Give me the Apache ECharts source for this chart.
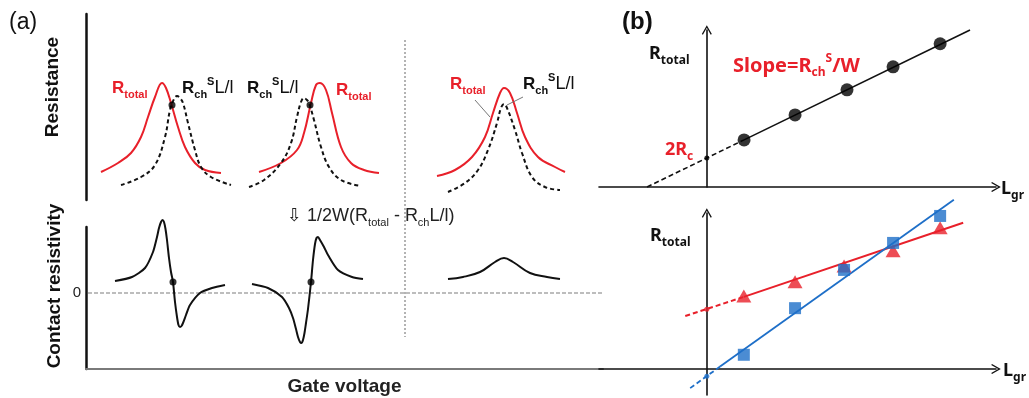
<!DOCTYPE html>
<html>
<head>
<meta charset="utf-8">
<title>Contact resistance</title>
<script src="https://cdn.jsdelivr.net/npm/echarts@6/dist/echarts.min.js"></script>
<style>
  html, body { margin: 0; padding: 0; background: #fff; }
  #chart { width: 1029px; height: 398px; }
</style>
</head>
<body>
<div id="chart"></div>
<script>
// (a) top: resistance vs gate voltage (arbitrary units)
var redA1 = [[15,28],[32,37],[45,47],[55,63],[62,83],[69,103],[76,117],[80,112],[85,97],[92,73],[99,53],[109,37],[119,30],[135,27]];
var blackA1 = [[35,15],[55,23],[69,35],[79,63],[84,90],[88,101],[91,104],[94,102],[97,97],[102,77],[109,50],[115,33],[125,23],[145,15]];
var redA2 = [[173,28],[195,37],[211,50],[218,67],[225,97],[230,115],[234,117],[240,110],[246,87],[255,53],[265,37],[278,30],[293,27]];
var blackA2 = [[163,13],[178,20],[195,37],[205,57],[211,83],[215,98],[218,102],[221,100],[223,97],[228,80],[235,53],[243,33],[255,20],[275,14]];
var redA3 = [[351,24],[369,30],[386,43],[399,63],[407,87],[414,107],[418,112],[424,107],[431,87],[439,63],[452,43],[469,33],[479,28]];
var blackA3 = [[362,8],[379,17],[392,30],[402,50],[411,77],[415,92],[418,96],[421,92],[429,70],[436,47],[446,23],[459,13],[474,10]];
var crossTop = [[86,95],[224,95]];
var leaderTotal = [[389,100],[404,83]];
var leaderCh = [[437,103],[421,95]];
var divider = [[319,160],[319,-137]];

// (a) bottom: contact resistivity
var rhoA1 = [[29,12],[46,16],[59,25],[67,41],[71,56],[73,65],[75,71],[76.5,73],[78,71],[79.5,64],[81,53],[83,35],[85,21],[87,11],[89,-9],[91,-24],[92.5,-32],[94,-34],[95.5,-33],[97,-30],[100,-22],[104,-12],[114,0],[126,5],[139,8]];
var rhoA2 = [[166,9],[182,5],[196,-4],[203,-15],[207,-25],[210,-36],[212,-44],[214,-49],[215.5,-50],[217,-47],[218.5,-40],[220,-30],[222,-16],[225,11],[227,33],[229,49],[230.5,55],[232,56],[234,53],[238,46],[242,38],[252,23],[266,16],[277,14]];
var rhoA3 = [[362,14],[377,16],[394,21],[409,31],[418,35],[427,31],[444,20],[461,16],[474,14]];
var crossBottom = [[87,11],[225,11]];
var zeroLine = [[2,0],[517,0]];

// (b) top: R_total vs L_gr
var lgrTop = [0.76, 1.8, 2.86, 3.8, 4.76];
var rTop = [0.96, 1.47, 1.98, 2.45, 2.92];
var fitTopDashed = [[-1.22,0],[0.76,0.96]];
var fitTopSolid = [[0.76,0.96],[5.37,3.2]];
var interceptTop = [[0,0.59]];

// (b) bottom: two devices
var lgrBottom = [0.755, 1.8, 2.8, 3.8, 4.76];
var rRed = [1.49, 1.78, 2.1, 2.41, 2.88];
var rBlue = [0.29, 1.24, 2.02, 2.57, 3.12];
var redDashed = [[-0.44,1.08],[0.755,1.47]];
var redSolid = [[0.755,1.47],[5.23,2.98]];
var redIntercept = [[0,1.22]];
var blueDashed = [[-0.34,-0.39],[0.27,0.05]];
var blueSolid = [[0.27,0.05],[5.04,3.45]];
var blueIntercept = [[0,-0.15]];

var RED = '#e8202a';
var BLUE = '#1e6fc8';
var FA = '"Liberation Sans", Arial, "DejaVu Sans", sans-serif';
var FB = '"Noto Sans", "Open Sans", sans-serif';
var arrow = 'path://M5,0 L10,8.8 L8.9,9.6 L5,2.6 L1.1,9.6 L0,8.8 Z';

function pairs(xs, ys) {
  return xs.map(function (x, i) { return [x, ys[i]]; });
}

function curve(data, idx, color, dashed, smooth) {
  return {
    type: 'line', xAxisIndex: idx, yAxisIndex: idx, data: data,
    smooth: smooth || 0.4, symbol: 'none', silent: true, clip: false,
    lineStyle: { color: color, width: 2, type: dashed ? [4, 3] : 'solid' }
  };
}

function straight(data, idx, color, width, type) {
  return {
    type: 'line', xAxisIndex: idx, yAxisIndex: idx, data: data,
    symbol: 'none', silent: true, clip: false,
    lineStyle: { color: color, width: width, type: type || 'solid' }
  };
}

function dots(data, idx, color, symbol, size) {
  return {
    type: 'scatter', xAxisIndex: idx, yAxisIndex: idx, data: data,
    symbol: symbol || 'circle', symbolSize: size, silent: true, z: 5,
    itemStyle: { color: color }
  };
}

function richA(color) {
  return {
    m: { fontFamily: FA, fontSize: 17, fontWeight: 'bold', fill: color, lineHeight: 24, verticalAlign: 'middle' },
    n: { fontFamily: FA, fontSize: 18, fill: color, lineHeight: 24, verticalAlign: 'middle' },
    sb: { fontFamily: FA, fontSize: 11, fontWeight: 'bold', fill: color, lineHeight: 11, verticalAlign: 'bottom' },
    sp: { fontFamily: FA, fontSize: 11, fontWeight: 'bold', fill: color, lineHeight: 13, verticalAlign: 'top' }
  };
}

function richB(color, size) {
  return {
    m: { fontFamily: FB, fontSize: size, fontWeight: 'bold', fill: color, lineHeight: 26, verticalAlign: 'middle' },
    sb: { fontFamily: FB, fontSize: 12, fontWeight: 'bold', fill: color, lineHeight: 12, verticalAlign: 'bottom' },
    sp: { fontFamily: FB, fontSize: 12, fontWeight: 'bold', fill: color, lineHeight: 14, verticalAlign: 'top' }
  };
}

function label(x, y, text, rich, extra) {
  var el = { type: 'text', x: x, y: y, silent: true,
    style: { text: text, rich: rich, align: 'left', verticalAlign: 'middle' } };
  return Object.assign(el, extra || {});
}

function plain(x, y, text, font, extra) {
  var el = { type: 'text', x: x, y: y, silent: true,
    style: Object.assign({ text: text, align: 'left', verticalAlign: 'middle', fill: '#111' }, font) };
  return Object.assign(el, extra || {});
}

var hidden = { axisTick: { show: false }, axisLabel: { show: false }, splitLine: { show: false } };

var bAxisLine = {
  show: true, onZero: true, symbol: ['none', arrow], symbolSize: [10, 10],
  lineStyle: { color: '#111', width: 1.6 }
};

var chart = echarts.init(document.getElementById('chart'));
chart.setOption({
  animation: false,
  backgroundColor: '#fff',
  grid: [
    { left: 86, top: 14, width: 517, height: 186 },
    { left: 86, top: 227, width: 517, height: 142 },
    { left: 599, top: 30, width: 397, height: 157 },
    { left: 599, top: 213, width: 397, height: 182 }
  ],
  xAxis: [
    Object.assign({ gridIndex: 0, type: 'value', min: 0, max: 517, axisLine: { show: false } }, hidden),
    Object.assign({
      gridIndex: 1, type: 'value', min: 0, max: 517,
      axisLine: { show: true, onZero: false, lineStyle: { color: '#7a7a7a', width: 2 } },
      name: 'Gate voltage', nameLocation: 'middle', nameGap: 8,
      nameTextStyle: { fontFamily: FA, fontSize: 19, fontWeight: 'bold', color: '#222', verticalAlign: 'top' }
    }, hidden),
    Object.assign({ gridIndex: 2, type: 'value', min: -2.2, max: 5.9, axisLine: bAxisLine }, hidden),
    Object.assign({ gridIndex: 3, type: 'value', min: -2.2, max: 5.9, axisLine: bAxisLine }, hidden)
  ],
  yAxis: [
    Object.assign({ gridIndex: 0, type: 'value', min: 0, max: 186,
      axisLine: { show: true, onZero: false, lineStyle: { color: '#111', width: 2.5 } } }, hidden),
    {
      gridIndex: 1, type: 'value', min: -76, max: 66, interval: 76,
      axisLine: { show: true, onZero: false, lineStyle: { color: '#111', width: 2.5 } },
      axisTick: { show: false }, splitLine: { show: false },
      axisLabel: { show: true, margin: 5, fontFamily: FA, fontSize: 15, color: '#222',
        formatter: function (v) { return v === 0 ? '0' : ''; } }
    },
    Object.assign({ gridIndex: 2, type: 'value', min: 0, max: 3.2, axisLine: bAxisLine }, hidden),
    Object.assign({ gridIndex: 3, type: 'value', min: -0.53, max: 3.18, axisLine: bAxisLine }, hidden)
  ],
  series: [
    // (a) top
    straight(divider, 0, '#9a9a9a', 1.5, [2, 2]),
    curve(redA1, 0, RED, false),
    curve(blackA1, 0, '#111', true),
    curve(redA2, 0, RED, false),
    curve(blackA2, 0, '#111', true),
    curve(redA3, 0, RED, false),
    curve(blackA3, 0, '#111', true),
    straight(leaderTotal, 0, '#666', 0.9),
    straight(leaderCh, 0, '#666', 0.9),
    dots(crossTop, 0, '#000', 'circle', 7),
    // (a) bottom
    straight(zeroLine, 1, '#a8a8a8', 1.5, [4, 2]),
    curve(rhoA1, 1, '#111', false, 0.25),
    curve(rhoA2, 1, '#111', false, 0.25),
    curve(rhoA3, 1, '#111', false, 0.4),
    dots(crossBottom, 1, '#000', 'circle', 7),
    // (b) top
    straight(fitTopDashed, 2, '#111', 1.6, [5, 3]),
    straight(fitTopSolid, 2, '#111', 1.6),
    dots(pairs(lgrTop, rTop), 2, '#000', 'circle', 13),
    dots(interceptTop, 2, '#000', 'circle', 5),
    // (b) bottom
    straight(redDashed, 3, RED, 2, [5, 3]),
    straight(redSolid, 3, RED, 2),
    straight(blueDashed, 3, BLUE, 1.8, [5, 3]),
    straight(blueSolid, 3, BLUE, 1.8),
    dots(pairs(lgrBottom, rRed), 3, RED, 'triangle', [15, 13]),
    dots(pairs(lgrBottom, rBlue), 3, BLUE, 'rect', 12),
    dots(redIntercept, 3, RED, 'circle', 5),
    dots(blueIntercept, 3, BLUE, 'circle', 5)
  ],
  graphic: [
    plain(9, 23, '(a)', { fontFamily: FA, fontSize: 23 }),
    plain(53, 87, 'Resistance', { fontFamily: FA, fontSize: 19, fontWeight: 'bold', align: 'center' }, { rotation: Math.PI / 2 }),
    plain(55, 286, 'Contact resistivity', { fontFamily: FA, fontSize: 19, fontWeight: 'bold', align: 'center' }, { rotation: Math.PI / 2 }),
    label(112, 88, '{m|R}{sb|total}', richA(RED)),
    label(182, 88, '{m|R}{sb|ch}{sp|S}{n|L/l}', richA('#111')),
    label(247, 88, '{m|R}{sb|ch}{sp|S}{n|L/l}', richA('#111')),
    label(336, 90, '{m|R}{sb|total}', richA(RED)),
    label(450, 84, '{m|R}{sb|total}', richA(RED)),
    label(523, 84, '{m|R}{sb|ch}{sp|S}{n|L/l}', richA('#111')),
    label(287, 216, '{n|\u21e9 1/2W(R}{s|total}{n| - R}{s|ch}{n|L/l)}', {
      n: { fontFamily: FA, fontSize: 18, fill: '#222', lineHeight: 24, verticalAlign: 'middle' },
      s: { fontFamily: FA, fontSize: 11, fill: '#222', lineHeight: 11, verticalAlign: 'bottom' }
    }),
    plain(622, 22, '(b)', { fontFamily: FA, fontSize: 24, fontWeight: 'bold' }),
    label(649, 54, '{m|R}{sb|total}', richB('#111', 18)),
    label(733, 66, '{m|Slope=R}{sb|ch}{sp|S}{m|/W}', richB(RED, 20)),
    label(665, 150, '{m|2R}{sb|c}', richB(RED, 18)),
    label(1001, 189, '{m|L}{sb|gr}', richB('#111', 18)),
    label(650, 236, '{m|R}{sb|total}', richB('#111', 18)),
    label(1003, 371, '{m|L}{sb|gr}', richB('#111', 18))
  ]
});
</script>
</body>
</html>
